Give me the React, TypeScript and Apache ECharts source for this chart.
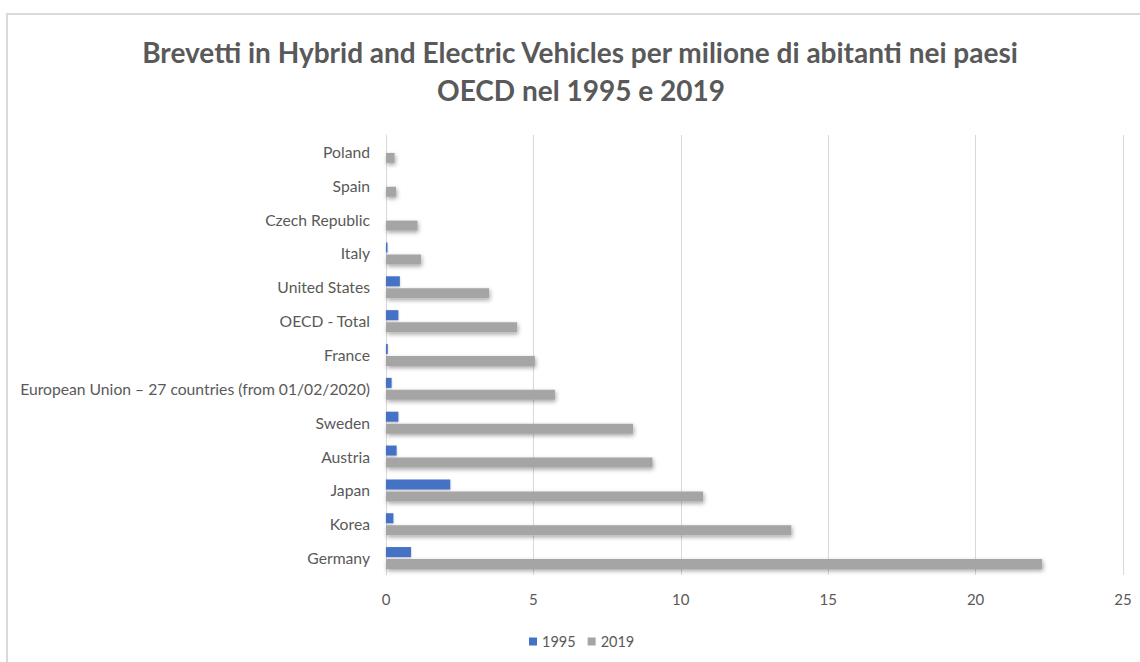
import React, { useEffect, useRef } from "react";
import * as echarts from "echarts";

const categories = [
  "Germany",
  "Korea",
  "Japan",
  "Austria",
  "Sweden",
  "European Union – 27 countries (from 01/02/2020)",
  "France",
  "OECD - Total",
  "United States",
  "Italy",
  "Czech Republic",
  "Spain",
  "Poland",
];

const values1995 = [0.85, 0.25, 2.18, 0.36, 0.42, 0.19, 0.06, 0.42, 0.47, 0.05, 0, 0, 0];
const values2019 = [22.26, 13.75, 10.76, 9.04, 8.38, 5.73, 5.05, 4.45, 3.5, 1.19, 1.07, 0.34, 0.29];

const seriesNames = ["1995", "2019"];
const titleLines = [
  "Brevetti in Hybrid and Electric Vehicles per milione di abitanti nei paesi",
  "OECD nel 1995 e 2019",
];

const FONT = "Lato, 'Noto Sans', sans-serif";
const TEXT = "#595959";

export default function App() {
  const ref = useRef<HTMLDivElement>(null);

  useEffect(() => {
    if (!ref.current) return;
    const chart = echarts.init(ref.current, undefined, { renderer: "svg" });
    chart.setOption({
      animation: false,
      backgroundColor: "#ffffff",
      textStyle: { fontFamily: FONT, color: TEXT },
      graphic: [
        {
          type: "rect",
          shape: { x: 7, y: 14, width: 1200, height: 700 },
          style: { fill: "none", stroke: "#d9d9d9", lineWidth: 2 },
          silent: true,
        },
        {
          type: "text",
          x: 580,
          y: 52,
          style: {
            text: titleLines[0],
            fontFamily: FONT,
            fontSize: 28,
            fontWeight: "bold",
            fill: TEXT,
            textAlign: "center",
            textVerticalAlign: "middle",
          },
        },
        {
          type: "text",
          x: 581,
          y: 90,
          style: {
            text: titleLines[1],
            fontFamily: FONT,
            fontSize: 28,
            fontWeight: "bold",
            fill: TEXT,
            textAlign: "center",
            textVerticalAlign: "middle",
          },
        },
      ],
      legend: {
        data: seriesNames,
        bottom: 8,
        left: 524,
        itemWidth: 8,
        itemHeight: 8,
        itemGap: 12,
        icon: "rect",
        textStyle: { fontFamily: FONT, fontSize: 14.5, color: TEXT, padding: [0, 0, 0, 0] },
      },
      grid: { left: 386, right: 17, top: 135, bottom: 87, containLabel: false },
      xAxis: {
        type: "value",
        min: 0,
        max: 25,
        interval: 5,
        axisLine: { show: false },
        axisTick: { show: false },
        splitLine: { lineStyle: { color: "#d9d9d9", width: 1 } },
        axisLabel: { fontFamily: FONT, fontSize: 15, color: TEXT, margin: 16 },
      },
      yAxis: {
        type: "category",
        data: categories,
        axisLine: { show: true, lineStyle: { color: "#d9d9d9", width: 1 } },
        axisTick: { show: false },
        axisLabel: { fontFamily: FONT, fontSize: 15.7, color: TEXT, margin: 16 },
      },
      series: [
        {
          name: seriesNames[0],
          type: "bar",
          data: values1995,
          barWidth: 10,
          barGap: "20%",
          itemStyle: {
            color: "#4472C4",
            shadowColor: "rgba(0,0,0,0.25)",
            shadowBlur: 2,
            shadowOffsetY: 1,
          },
        },
        {
          name: seriesNames[1],
          type: "bar",
          data: values2019,
          barWidth: 10,
          barGap: "20%",
          itemStyle: {
            color: "#A5A5A5",
            shadowColor: "rgba(0,0,0,0.35)",
            shadowBlur: 4,
            shadowOffsetX: 1,
            shadowOffsetY: 2,
          },
        },
      ],
    });
    return () => chart.dispose();
  }, []);

  return (
    <div
      ref={ref}
      style={{ position: "absolute", left: 0, top: 0, width: 1140, height: 662 }}
    />
  );
}
